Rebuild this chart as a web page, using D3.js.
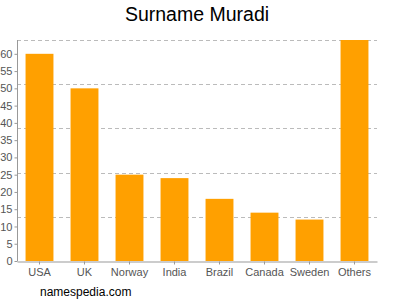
<!DOCTYPE html>
<html>
<head>
<meta charset="utf-8">
<script src="https://cdn.jsdelivr.net/npm/d3@7"></script>
<style>
body { margin: 0; background: #fff; }
svg { display: block; font-family: "Liberation Sans", Arial, sans-serif; }
</style>
</head>
<body>
<svg id="chart" width="400" height="300"></svg>
<script>
const countries = ['USA', 'UK', 'Norway', 'India', 'Brazil', 'Canada', 'Sweden', 'Others'];
const counts = [60, 50, 25, 24, 18, 14, 12, 64];
const yTicks = [0, 5, 10, 15, 20, 25, 30, 35, 40, 45, 50, 55, 60];
const gridLevels = [12.8, 25.6, 38.4, 51.2, 64];

let svg = d3.select('#chart');
let plotLeft = 17, plotRight = 377, plotTop = 40, plotBottom = 261;

let x = d3.scaleBand()
	.domain(countries)
	.range([plotLeft, plotRight])
	.paddingInner(0.38)
	.paddingOuter(0.19);

let y = d3.scaleLinear()
	.domain([0, 64])
	.range([plotBottom, plotTop]);

svg.append('text')
	.attr('x', 197)
	.attr('y', 21)
	.attr('text-anchor', 'middle')
	.attr('font-size', 19.5)
	.attr('fill', '#000')
	.text('Surname Muradi');

// dashed grid
svg.append('g')
	.selectAll('line')
	.data(gridLevels)
	.enter()
	.append('line')
	.attr('x1', plotLeft)
	.attr('x2', plotRight)
	.attr('y1', d => Math.round(y(d)) + 0.5)
	.attr('y2', d => Math.round(y(d)) + 0.5)
	.attr('stroke', '#bbb')
	.attr('stroke-dasharray', '4,3');

// bars
svg.append('g')
	.selectAll('rect')
	.data(countries)
	.enter()
	.append('rect')
	.attr('x', d => x(d))
	.attr('width', x.bandwidth())
	.attr('y', (d, i) => y(counts[i]))
	.attr('height', (d, i) => plotBottom - y(counts[i]))
	.attr('fill', '#ffa000');

// y axis
let yAxis = svg.append('g')
	.attr('transform', 'translate(' + (plotLeft + 0.5) + ',0)')
	.call(d3.axisLeft(y).tickValues(yTicks).tickSize(3).tickSizeOuter(0).tickPadding(2));
yAxis.select('.domain').attr('stroke', '#999').attr('d', 'M0,' + plotTop + 'V' + plotBottom);
yAxis.selectAll('.tick line').attr('stroke', '#999');
yAxis.selectAll('.tick text').attr('fill', '#555').attr('font-size', 11).attr('font-family', '"Liberation Sans", Arial, sans-serif');

// x axis
let xAxis = svg.append('g')
	.attr('transform', 'translate(0,' + (plotBottom + 0.5) + ')')
	.call(d3.axisBottom(x).tickSize(3).tickSizeOuter(0).tickPadding(4));
xAxis.select('.domain').attr('stroke', '#999');
xAxis.selectAll('.tick line').attr('stroke', '#999');
xAxis.selectAll('.tick text').attr('fill', '#555').attr('font-size', 11).attr('font-family', '"Liberation Sans", Arial, sans-serif');

svg.append('text')
	.attr('x', 40)
	.attr('y', 296)
	.attr('font-size', 12)
	.attr('fill', '#000')
	.text('namespedia.com');
</script>
</body>
</html>
